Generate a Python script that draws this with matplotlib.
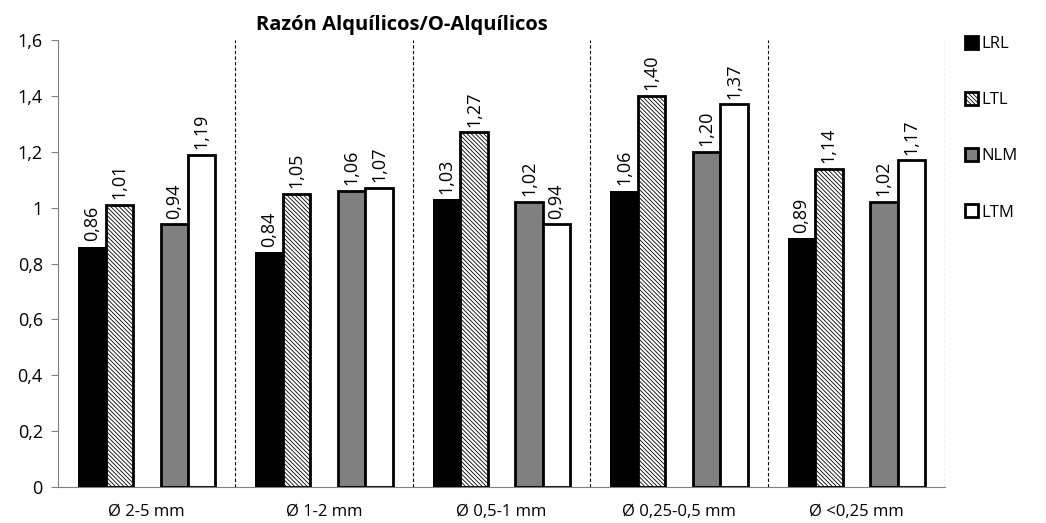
import matplotlib
matplotlib.use("Agg")
import matplotlib.pyplot as plt
from matplotlib.patches import Patch
import numpy as np

categories = ["Ø 2-5 mm", "Ø 1-2 mm", "Ø 0,5-1 mm", "Ø 0,25-0,5 mm", "Ø <0,25 mm"]
series_names = ["LRL", "LTL", "NLM", "LTM"]
LRL = [0.86, 0.84, 1.03, 1.06, 0.89]
LTL = [1.01, 1.05, 1.27, 1.40, 1.14]
NLM = [0.94, 1.06, 1.02, 1.20, 1.02]
LTM = [1.19, 1.07, 0.94, 1.37, 1.17]
yticks = [0, 0.2, 0.4, 0.6, 0.8, 1.0, 1.2, 1.4, 1.6]
ytick_labels = ["0", "0,2", "0,4", "0,6", "0,8", "1", "1,2", "1,4", "1,6"]
title = "Razón Alquílicos/O-Alquílicos"

plt.rcParams['font.family'] = ['Open Sans', 'DejaVu Sans']
plt.rcParams['hatch.color'] = '#a8a8a8'
plt.rcParams['hatch.linewidth'] = 0.6

fig = plt.figure(figsize=(10.46, 5.23), dpi=100)
ax = fig.add_axes([0.0555, 0.0688, 0.848, 0.8547])

x = np.arange(len(categories))
w = 0.155
offsets = [-0.31, -0.155, 0.155, 0.31]
hatch = '\\\\\\\\\\\\\\\\'
styles = [
    dict(facecolor='black', edgecolor='black', linewidth=0),
    dict(facecolor='white', edgecolor='black', hatch=hatch, linewidth=2),
    dict(facecolor='#808080', edgecolor='black', linewidth=2),
    dict(facecolor='white', edgecolor='black', linewidth=2),
]
data = [LRL, LTL, NLM, LTM]
for vals, off, st in zip(data, offsets, styles):
    bars = ax.bar(x + off, vals, w, **st, zorder=3)
    for b, v in zip(bars, vals):
        ax.text(b.get_x() + b.get_width() / 2, v + 0.02, f"{v:.2f}".replace('.', ','),
                rotation=90, ha='center', va='bottom', fontsize=13, zorder=4)

ax.set_xlim(-0.5, len(categories) - 0.5)
ax.set_ylim(0, 1.6)
ax.set_yticks(yticks)
ax.set_yticklabels(ytick_labels, fontsize=13)
ax.set_xticks(x)
ax.set_xticklabels(categories, fontsize=12)
ax.tick_params(axis='x', length=0, pad=12)
ax.tick_params(axis='y', length=5, color='#808080', pad=6)
for s in ['top', 'right']:
    ax.spines[s].set_visible(False)
ax.spines['left'].set_color('#808080')
ax.spines['bottom'].set_color('#808080')

for i in range(1, len(categories) + 1):
    ax.axvline(i - 0.5, ymin=0, ymax=1, color='black', linestyle=(0, (3, 2)), linewidth=0.8, zorder=1)

fig.text(0.384, 0.952, title, ha='center', va='center', fontsize=14.5, fontweight='bold')

handles = [Patch(facecolor='black', edgecolor='black', linewidth=2),
           Patch(facecolor='white', edgecolor='black', hatch=hatch, linewidth=2),
           Patch(facecolor='#808080', edgecolor='black', linewidth=2),
           Patch(facecolor='white', edgecolor='black', linewidth=2)]
fig.legend(handles, series_names, loc='upper left', bbox_to_anchor=(0.908, 0.96),
           frameon=False, fontsize=12, handlelength=0.8, handleheight=0.8,
           handletextpad=0.2, labelspacing=2.4)

fig.savefig("out.png", dpi=100)
